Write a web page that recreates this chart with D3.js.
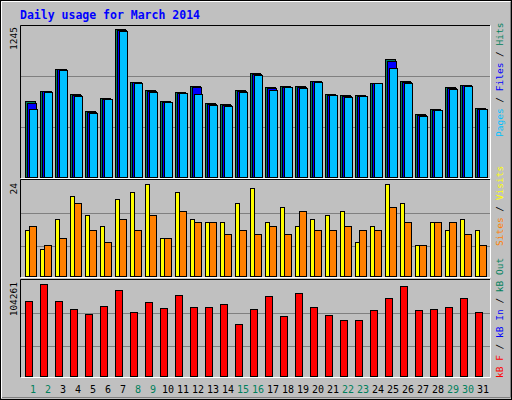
<!DOCTYPE html>
<html><head><meta charset="utf-8">
<script src="https://cdn.jsdelivr.net/npm/d3@7"></script>
<style>body{margin:0;background:#fff}svg{display:block;font-family:"DejaVu Sans Mono",monospace}</style>
</head><body><svg width="512" height="400"></svg>
<script>
var days = d3.range(1, 32);
var weekend = [1, 2, 8, 9, 15, 16, 22, 23, 29, 30];
var hits = [639, 724, 910, 699, 555, 665, 1245, 800, 732, 639, 716, 766, 623, 614, 732, 876, 758, 766, 766, 808, 699, 690, 690, 792, 994, 808, 530, 572, 758, 775, 580];
var files = [622, 721, 905, 690, 547, 660, 1237, 795, 724, 635, 707, 755, 615, 606, 724, 867, 750, 760, 757, 804, 692, 683, 685, 792, 977, 800, 522, 566, 750, 770, 575];
var pages = [572, 716, 901, 682, 538, 656, 1228, 791, 716, 631, 707, 699, 606, 597, 716, 859, 732, 758, 749, 800, 690, 673, 682, 791, 918, 791, 513, 563, 741, 766, 572];
var visits = [12, 7, 15, 21, 16, 13, 20, 22, 24, 10, 22, 15, 14, 14, 19, 23, 14, 18, 13, 15, 16, 17, 9, 13, 24, 19, 8, 14, 12, 15, 12];
var sites = [13, 8, 10, 19, 12, 9, 15, 12, 16, 10, 17, 14, 14, 11, 12, 11, 13, 11, 17, 12, 12, 13, 12, 12, 18, 14, 8, 14, 14, 11, 8];
var kbF = [84852, 104261, 84852, 75720, 70012, 79144, 97408, 72295, 83711, 76861, 91701, 78003, 78003, 81427, 58597, 75720, 90560, 67729, 93984, 78003, 68871, 63163, 63163, 74578, 88276, 101974, 74578, 75720, 78003, 88276, 72295];

var svg = d3.select('svg');
svg.append('rect').attr('x', 0.5).attr('y', 0.5).attr('width', 511).attr('height', 399).attr('fill', '#c0c0c0').attr('stroke', '#000');
svg.append('path').attr('d', 'M1.5,398V1.5H510').attr('fill', 'none').attr('stroke', '#fff');
svg.append('path').attr('d', 'M2,397.5H510.5V2').attr('fill', 'none').attr('stroke', '#808080');

svg.append('text').attr('x', 20).attr('y', 19).attr('fill', '#0000ff').attr('font-weight', 'bold')
  .attr('font-size', 11.5).text('Daily usage for March 2014');

var x = d3.scaleBand().domain(days).range([20, 485]).paddingInner(0);
var ys1 = d3.scaleLinear().domain([0, 1245]).range([177, 29]);
var ys2 = d3.scaleLinear().domain([0, 24]).range([276, 184]);
var ys3 = d3.scaleLinear().domain([0, 104261]).range([376, 284]);

// panel frames
[[25, 179], [179, 278], [279, 378]].forEach(function (p) {
  svg.append('path').attr('d', 'M20.5,' + (p[1] - 0.5) + 'V' + (p[0] + 0.5) + 'H490').attr('fill', 'none').attr('stroke', '#000');
  svg.append('path').attr('d', 'M20.5,' + (p[1] - 0.5) + 'H490.5V' + (p[0] + 0.5)).attr('fill', 'none').attr('stroke', '#fff');
});
[76.5, 127.5, 213.5, 246.5, 313.5, 346.5].forEach(function (g) {
  svg.append('line').attr('x1', 21).attr('x2', 490).attr('y1', g).attr('y2', g).attr('stroke', '#808080');
});

function bars(data, scale, dx, w, color) {
  svg.append('g').selectAll('rect').data(data).join('rect')
    .attr('x', function (d, i) { return x(days[i]) + 5.5 + dx; })
    .attr('y', function (d) { return Math.round(scale(d)) + 0.5; })
    .attr('width', w)
    .attr('height', function (d) { return scale.range()[0] - Math.round(scale(d)); })
    .attr('fill', color).attr('stroke', '#000');
}
bars(hits, ys1, 0, 10, '#00805c');
bars(files, ys1, 2, 9, '#0000ff');
bars(pages, ys1, 4, 8, '#00c0ff');
bars(visits, ys2, 0, 4, '#ffff00');
bars(sites, ys2, 4, 7, '#ff8000');
bars(kbF, ys3, 0, 7, '#ff0000');

svg.append('g').selectAll('text').data(days).join('text')
  .attr('x', function (d) { return x(d) + 13; }).attr('y', 393)
  .attr('text-anchor', 'middle').attr('font-size', 10)
  .attr('fill', function (d) { return weekend.indexOf(d) >= 0 ? '#00805c' : '#000'; })
  .text(function (d) { return d; });

function leftLabel(t, y) {
  svg.append('text').attr('transform', 'translate(17,' + y + ') rotate(-90)')
    .attr('text-anchor', 'end').attr('font-size', 9.5).text(t);
}
leftLabel('1245', 27);
leftLabel('24', 183);
leftLabel('104261', 282);

function rightLabel(parts, y) {
  var t = svg.append('text').attr('transform', 'translate(503,' + y + ') rotate(-90)').attr('font-size', 9.5);
  parts.forEach(function (p) { t.append('tspan').attr('fill', p[1]).text(p[0]); });
}
rightLabel([['Pages', '#00c0ff'], [' / ', '#000'], ['Files', '#0000ff'], [' / ', '#000'], ['Hits', '#00805c']], 137);
rightLabel([['Sites', '#ff8000'], [' / ', '#000'], ['Visits', '#ffff00']], 246);
rightLabel([['kB F', '#ff0000'], [' / ', '#000'], ['kB In', '#0000ff'], [' / ', '#000'], ['kB Out', '#00805c']], 378);
</script></body></html>
